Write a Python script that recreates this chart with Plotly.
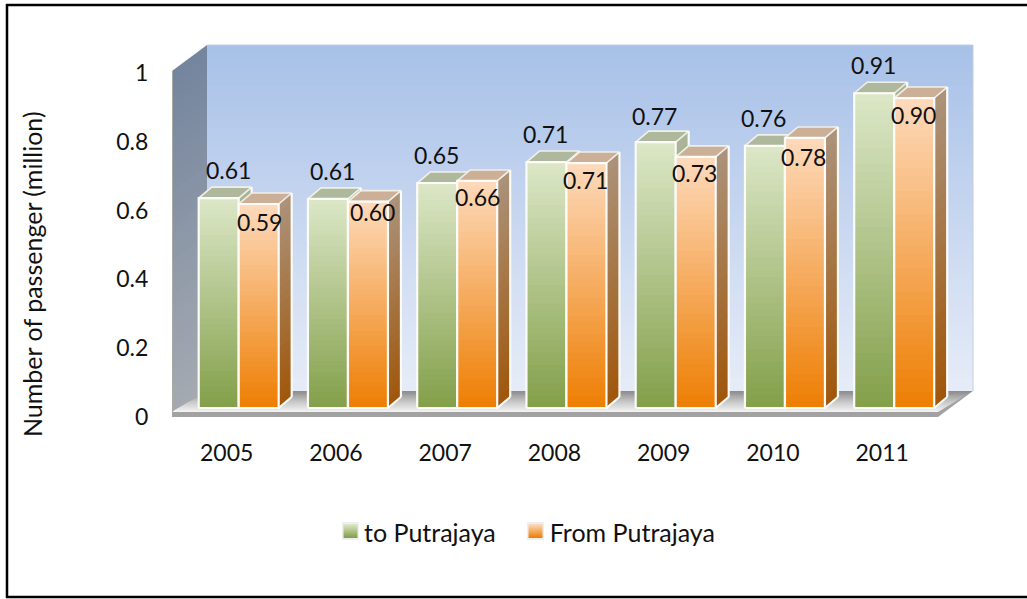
import plotly.graph_objects as go

# ---- data ----
years = ["2005", "2006", "2007", "2008", "2009", "2010", "2011"]
to_values = [0.61, 0.608, 0.654, 0.715, 0.773, 0.762, 0.915]
from_values = [0.593, 0.60, 0.66, 0.712, 0.73, 0.785, 0.901]
to_labels = ["0.61", "0.61", "0.65", "0.71", "0.77", "0.76", "0.91"]
from_labels = ["0.59", "0.60", "0.66", "0.71", "0.73", "0.78", "0.90"]
y_ticks = [0, 0.2, 0.4, 0.6, 0.8, 1]
y_ticktext = ["0", "0.2", "0.4", "0.6", "0.8", "1"]

# ---- layout / style ----
W, H = 1027, 599
FONT = "Lato"
TXT = "#111111"
FS = 23
FS_WORDS = 25
PX_X, PX_Y = 109.25, 344.0          # pixels per category, per unit of value
AX_L, AX_R, AX_B, AX_T = 172, 975, 417, 40
WALL_DX, WALL_DY = 35 / PX_X, 26 / PX_Y
BAR_DX, BAR_DY = 13 / PX_X, 11 / PX_Y
BASE = 9 / PX_Y
SHIFT = 12 / PX_X
BW = 40 / PX_X
WALL_TOP = 346 / PX_Y
x0 = -54.7 / PX_X
x1 = x0 + 766 / PX_X
XR = [x0, x0 + (AX_R - AX_L) / PX_X]
YR = [0, (AX_B - AX_T) / PX_Y]
to_shift = [(10, 28), (5, 28), (-1, 28), (-1, 28), (-1, 26), (-1, 28), (-1, 28)]
from_shift = [(1, -18), (5, -10), (0, -16), (-1, -17), (-1, -16), (-1, -19), (-1, -17)]

GREEN = dict(front=("#dbe6c6", "#84a04b"), side=("#a9b596", "#6f8640"), top="#aeb89c")
ORANGE = dict(front=("#fdd9ba", "#ee7f05"), side=("#ab9279", "#a0570c"), top="#cbaf96")


def hex2rgb(c):
    return tuple(int(c[i:i + 2], 16) for i in (1, 3, 5))


def mix(a, b, t):
    ra, rb = hex2rgb(a), hex2rgb(b)
    return "rgb(%d,%d,%d)" % tuple(round(ra[i] + (rb[i] - ra[i]) * t) for i in range(3))


def add_series(fig, values, other, offset, colors, xa, ya, clip_other):
    xs = [i + offset + SHIFT for i in range(len(values))]
    N = 40
    # front faces: painter's gradient, bars of shrinking length
    for k in range(N):
        frac = 1 - k / N
        fig.add_trace(go.Bar(x=xs, y=[v * frac for v in values], base=BASE, width=BW,
                             marker=dict(color=mix(*colors["front"], k / (N - 1)), line_width=0),
                             showlegend=False, xaxis=xa, yaxis=ya, hoverinfo="skip"))
    # side faces
    S = 24
    for k in range(S):
        frac = 1 - k / S
        px, py = [], []
        for x, v, o in zip(xs, values, other):
            r = x + BW / 2
            low = BASE + (o if clip_other else 0)
            top = BASE + v * frac
            if top <= low:
                continue
            px += [r, r + BAR_DX, r + BAR_DX, r, r, None]
            py += [low, low + BAR_DY, top + BAR_DY, top, low, None]
        if px:
            fig.add_trace(go.Scatter(x=px, y=py, mode="lines", fill="toself", line_width=0,
                                     fillcolor=mix(*colors["side"], k / (S - 1)),
                                     showlegend=False, xaxis=xa, yaxis=ya, hoverinfo="skip"))
    # top faces and white edges
    tx, ty, ex, ey = [], [], [], []
    for x, v in zip(xs, values):
        l, r, t, b = x - BW / 2, x + BW / 2, BASE + v, BASE
        tx += [l, r, r + BAR_DX, l + BAR_DX, l, None]
        ty += [t, t, t + BAR_DY, t + BAR_DY, t, None]
        ex += [l, l, r, r, l, None, r + BAR_DX, r + BAR_DX, None, r, r + BAR_DX, None]
        ey += [b, t, t, b, b, None, t + BAR_DY, b + BAR_DY, None, b, b + BAR_DY, None]
    fig.add_trace(go.Scatter(x=tx, y=ty, mode="lines", fill="toself", fillcolor=colors["top"],
                             line=dict(color="#f2efe9", width=1.6), showlegend=False,
                             xaxis=xa, yaxis=ya, hoverinfo="skip"))
    fig.add_trace(go.Scatter(x=ex, y=ey, mode="lines", line=dict(color="#fbfbf8", width=2.2),
                             showlegend=False, xaxis=xa, yaxis=ya, hoverinfo="skip"))


fig = go.Figure()
add_series(fig, to_values, from_values, -BW / 2, GREEN, "x", "y", True)
add_series(fig, from_values, [0] * 7, BW / 2, ORANGE, "x2", "y2", False)

# legend-only entries; their gradient swatches are shapes below
for name in ("to Putrajaya", "From Putrajaya"):
    fig.add_trace(go.Bar(x=[None], y=[None], name=name, marker=dict(color="rgba(0,0,0,0)", line_width=0)))

shapes = []


def poly(pts, color, line=None, lw=0, layer="below"):
    path = "M " + " L ".join(f"{x},{y}" for x, y in pts) + " Z"
    shapes.append(dict(type="path", path=path, xref="x", yref="y", fillcolor=color, layer=layer,
                       line=dict(color=line or color, width=lw)))


# back wall
n = 50
for k in range(n):
    top = WALL_DY + WALL_TOP * (1 - k / n)
    poly([(x0 + WALL_DX, WALL_DY), (x1 + WALL_DX, WALL_DY), (x1 + WALL_DX, top), (x0 + WALL_DX, top)],
         mix("#a8c1e8", "#e6ecf7", k / (n - 1)))
shapes.append(dict(type="path", xref="x", yref="y", layer="below", fillcolor="rgba(0,0,0,0)",
                   path=f"M {x0 + WALL_DX},{WALL_DY + WALL_TOP} L {x1 + WALL_DX},{WALL_DY + WALL_TOP} L {x1 + WALL_DX},{WALL_DY}",
                   line=dict(color="#c2cede", width=1)))
# left wall
n = 40
for k in range(n):
    top = WALL_TOP * (1 - k / n)
    poly([(x0, 0), (x0 + WALL_DX, WALL_DY), (x0 + WALL_DX, WALL_DY + top), (x0, top)],
         mix("#74859e", "#a5aab1", k / (n - 1)))
# floor: surface, thickness
TH = 5 / PX_Y
n = 16
for k in range(n):
    d = 1 - k / n
    t = k / (n - 1)
    col = mix("#8e8e8e", "#c6c6c6", t / 0.5) if t < 0.5 else mix("#c6c6c6", "#f2f2f2", (t - 0.5) / 0.5)
    poly([(x0, TH), (x1, TH), (x1 + WALL_DX * d, TH + (WALL_DY - TH) * d), (x0 + WALL_DX * d, TH + (WALL_DY - TH) * d)], col)
poly([(x0, 0), (x1, 0), (x1, TH), (x0, TH)], "#a2a2a2")
poly([(x1, 0), (x1 + WALL_DX, WALL_DY), (x1, TH)], "#a2a2a2")
shapes.append(dict(type="line", xref="x", yref="y", layer="below", x0=x0, x1=x0, y0=0, y1=WALL_TOP,
                   line=dict(color="#a9aaa2", width=2)))

# legend swatches
for left, cols in ((342, GREEN["front"]), (527, ORANGE["front"])):
    shapes.append(dict(type="rect", xref="paper", yref="paper", x0=left / W, x1=(left + 17) / W,
                       y0=1 - 540 / H, y1=1 - 522 / H, fillcolor="#efefef", line_width=0))
    n = 14
    for k in range(n):
        shapes.append(dict(type="rect", xref="paper", yref="paper", x0=(left + 1.5) / W, x1=(left + 15.5) / W,
                           y0=1 - (524 + k) / H, y1=1 - (525 + k) / H, line_width=0,
                           fillcolor=mix(cols[0], cols[1], k / (n - 1))))

# frame
for (a, b, c, d) in ((7, 4, 7, 598), (6, 5, W, 5), (6, 597, W, 597)):
    shapes.append(dict(type="line", xref="paper", yref="paper", x0=a / W, x1=c / W,
                       y0=1 - b / H, y1=1 - d / H, line=dict(color="#000000", width=2.5)))

annotations = []
for i in range(7):
    for vals, labs, off, sh in ((to_values, to_labels, -BW / 2, to_shift),
                                (from_values, from_labels, BW / 2, from_shift)):
        annotations.append(dict(x=i + off + SHIFT, y=BASE + vals[i], xref="x", yref="y", text=labs[i],
                                showarrow=False, xshift=sh[i][0], yshift=sh[i][1], xanchor="center",
                                yanchor="middle", font=dict(family=FONT, size=FS, color=TXT)))
annotations.append(dict(x=32 / W, y=1 - 274 / H, xref="paper", yref="paper", textangle=-90, showarrow=False,
                        text="Number of passenger (million)", xanchor="center", yanchor="middle",
                        font=dict(family=FONT, size=FS_WORDS, color=TXT)))

dom_x = [AX_L / W, AX_R / W]
dom_y = [1 - AX_B / H, 1 - AX_T / H]
fig.update_layout(
    width=W, height=H, margin=dict(l=0, r=0, t=0, b=0, pad=0, autoexpand=False),
    paper_bgcolor="white", plot_bgcolor="rgba(0,0,0,0)",
    barmode="overlay", hovermode=False, shapes=shapes, annotations=annotations,
    font=dict(family=FONT, size=FS, color=TXT),
    xaxis=dict(domain=dom_x, range=XR, tickmode="array", tickvals=list(range(7)), ticktext=years,
               showgrid=False, zeroline=False, showline=False, ticks="outside", ticklen=15, tickcolor="rgba(0,0,0,0)",
               tickfont=dict(family=FONT, size=FS, color=TXT), fixedrange=True),
    yaxis=dict(domain=dom_y, range=YR, tickmode="array", tickvals=y_ticks, ticktext=y_ticktext,
               showgrid=False, zeroline=False, showline=False, ticks="outside", ticklen=18, tickcolor="rgba(0,0,0,0)",
               tickfont=dict(family=FONT, size=FS, color=TXT), fixedrange=True),
    xaxis2=dict(domain=dom_x, range=XR, overlaying="x", visible=False, fixedrange=True, anchor="y2"),
    yaxis2=dict(domain=dom_y, range=YR, overlaying="y", visible=False, fixedrange=True, anchor="x2"),
    legend=dict(orientation="h", x=315 / W, y=1 - 509 / H, xanchor="left", yanchor="top", itemwidth=39,
                bgcolor="rgba(0,0,0,0)", font=dict(family=FONT, size=FS_WORDS, color=TXT)),
)
fig.write_html("out.html", post_script="document.body.style.margin='0';", config={"displayModeBar": False})
